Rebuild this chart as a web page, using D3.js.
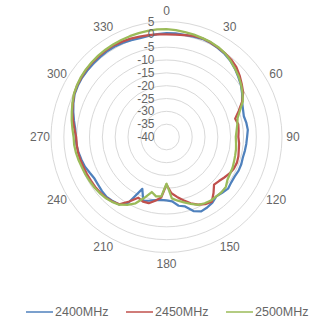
<!DOCTYPE html>
<html>
<head>
<meta charset="utf-8">
<script src="https://cdn.jsdelivr.net/npm/d3@7"></script>
<style>
  body { margin: 0; background: #fff; }
  text { font-family: "Liberation Sans", Arial, sans-serif; fill: #666; }
</style>
</head>
<body>
<div id="chart"></div>
<script>
// measurement angles (deg) and gain per band (dB)
const angles = d3.range(0, 360, 5);
const gain2400 = [0.5,0.5,0.4,0.5,0.7,0.5,0.0,-0.5,-1.3,-2.3,-3.5,-4.6,-6.0,-7.5,-8.3,-8.8,-8.4,-8.2,
  -8.6,-8.8,-9.0,-9.2,-9.0,-9.0,-9.3,-9.2,-8.7,-9.3,-9.8,-8.8,-8.3,-8.0,-9.3,-12.0,-12.8,-14.8,
  -15.3,-15.4,-15.0,-14.3,-13.5,-17.7,-10.5,-7.9,-7.4,-7.0,-7.2,-7.5,-7.6,-7.0,-6.2,-5.7,-5.2,-4.8,
  -4.6,-4.3,-3.4,-2.4,-1.4,-0.5,-0.1,0.2,0.3,0.4,0.5,0.6,0.6,0.4,0.1,-0.1,0.0,0.2];
const gain2450 = [0.0,0.0,0.3,0.8,0.9,0.6,0.2,-0.2,-0.7,-1.5,-2.8,-4.2,-5.5,-7.5,-10.0,-12.3,-11.6,-11.8,
  -12.0,-11.6,-11.4,-11.0,-10.8,-11.0,-11.6,-12.5,-13.3,-13.8,-11.5,-9.2,-9.8,-10.9,-12.5,-14.5,-16.3,-18.0,
  -21.5,-16.3,-14.8,-13.3,-13.2,-13.9,-11.0,-8.0,-7.2,-6.6,-6.3,-6.1,-6.0,-5.8,-5.6,-5.3,-5.0,-4.9,
  -4.8,-4.0,-3.0,-2.0,-1.2,-0.3,0.2,0.5,0.8,1.0,1.1,1.2,1.2,1.0,0.8,0.5,0.3,0.1];
const gain2500 = [2.0,1.8,1.5,1.3,1.0,0.8,0.4,-0.2,-1.2,-2.3,-3.3,-4.5,-5.8,-7.2,-9.5,-11.3,-12.0,-12.6,
  -13.0,-12.8,-12.5,-12.3,-12.0,-11.6,-11.4,-11.0,-9.8,-9.6,-9.8,-9.8,-10.2,-10.8,-12.3,-13.6,-14.8,-16.0,
  -21.8,-16.8,-16.5,-17.8,-14.8,-11.5,-9.5,-7.8,-7.0,-6.4,-6.0,-5.7,-5.5,-5.2,-5.0,-4.6,-4.2,-3.9,
  -3.8,-3.2,-2.5,-1.8,-1.0,-0.2,0.3,0.7,1.0,1.2,1.4,1.5,1.6,1.7,1.8,1.9,2.0,2.1];
const seriesNames = ["2400MHz", "2450MHz", "2500MHz"];
const seriesColors = ["#4F81BD", "#C0504D", "#9BBB59"];
const gridTicks = [5, 0, -5, -10, -15, -20, -25, -30, -35, -40];
const angleLabels = [0, 30, 60, 90, 120, 150, 180, 210, 240, 270, 300, 330];

const width = 327, height = 321;
const cx = 166.5, cy = 137, R = 115.5;

const svg = d3.select("#chart").append("svg")
    .attr("width", width)
    .attr("height", height);

const r = d3.scaleLinear().domain([-40, 5]).range([0, R]);
const a = d3.scaleLinear().domain([0, 360]).range([0, 2 * Math.PI]);

const g = svg.append("g").attr("transform", `translate(${cx},${cy})`);

// grid rings
g.selectAll("circle.grid")
    .data(gridTicks.filter(d => d > -40))
    .enter()
    .append("circle")
    .attr("r", d => r(d))
    .attr("fill", "none")
    .attr("stroke", "#D9D9D9")
    .attr("stroke-width", 1);

// angle labels
const labelR = R + 11;
g.selectAll("text.ang")
    .data(angleLabels)
    .enter()
    .append("text")
    .attr("x", d => labelR * Math.sin(a(d)))
    .attr("y", d => -labelR * Math.cos(a(d)))
    .attr("text-anchor", "middle")
    .attr("dominant-baseline", "central")
    .attr("font-size", 12)
    .text(d => d);

// traces
const line = d3.lineRadial()
    .angle((d, i) => a(angles[i]))
    .radius(d => r(d))
    .curve(d3.curveLinearClosed);

const allSeries = [gain2400, gain2450, gain2500];
g.selectAll("path.trace")
    .data(allSeries)
    .enter()
    .append("path")
    .attr("d", line)
    .attr("fill", "none")
    .attr("stroke", (d, i) => seriesColors[i])
    .attr("stroke-width", 2.25)
    .attr("stroke-linejoin", "round");

// value labels along the 0 deg spoke
g.selectAll("text.val")
    .data(gridTicks)
    .enter()
    .append("text")
    .attr("x", -12)
    .attr("y", d => -r(d))
    .attr("text-anchor", "end")
    .attr("dominant-baseline", "central")
    .attr("font-size", 12)
    .text(d => d);

// legend
const legend = svg.append("g").attr("transform", "translate(26,312)");
const item = legend.selectAll("g")
    .data(seriesNames)
    .enter()
    .append("g")
    .attr("transform", (d, i) => `translate(${i * 100},0)`);
item.append("line")
    .attr("x1", 0).attr("x2", 27)
    .attr("stroke", (d, i) => seriesColors[i])
    .attr("stroke-width", 1.5);
item.append("text")
    .attr("x", 29)
    .attr("dominant-baseline", "central")
    .attr("font-size", 12.5)
    .text(d => d);
</script>
</body>
</html>
